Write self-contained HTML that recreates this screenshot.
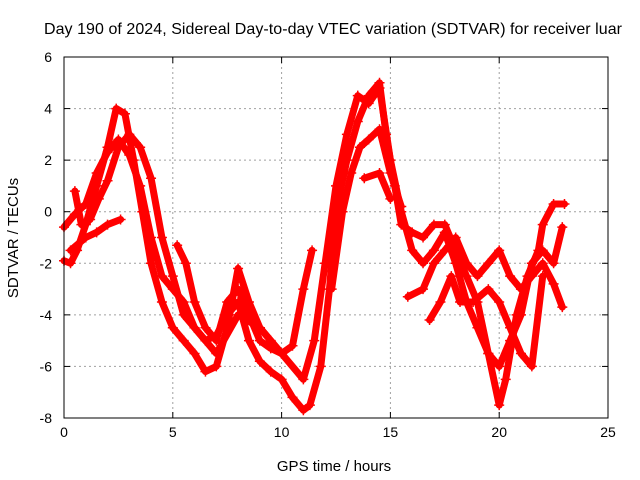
<!DOCTYPE html>
<html><head><meta charset="utf-8"><style>
body{margin:0;background:#fff;}
svg{display:block;font-family:"Liberation Sans",sans-serif;}
</style></head><body>
<svg id="c" width="640" height="480" viewBox="0 0 640 480">
<text x="333" y="34" font-size="16" text-anchor="middle" textLength="578">Day 190 of 2024, Sidereal Day-to-day VTEC variation (SDTVAR) for receiver luar</text>
<g id="grid"></g>
<g id="ticks"></g>
<g id="series"></g>
<rect x="64" y="57" width="544" height="361" fill="none" stroke="#000" stroke-width="1"/>
<text x="334" y="471" font-size="15" text-anchor="middle">GPS time / hours</text>
<text transform="translate(18,238) rotate(-90)" font-size="15" text-anchor="middle">SDTVAR / TECUs</text>
</svg>
<script>
const xTicks=[0,5,10,15,20,25];
const yTicks=[6,4,2,0,-2,-4,-6,-8];
const track1=[[0,-1.9],[0.3,-2],[0.6,-1.5],[1,-0.5],[1.5,1],[2,2.5],[2.4,4],[2.8,3.8],[3.2,2],[3.6,0],[4,-2],[4.5,-3.5],[5,-4.5],[5.5,-5],[6,-5.5],[6.5,-6.2],[7,-6],[7.5,-4.5],[8,-2.2],[8.5,-3.5],[9,-4.5],[9.5,-5],[10,-5.5],[10.5,-5.2],[11,-3],[11.4,-1.5]];
const track2=[[0,-0.6],[0.5,-0.1],[1,0.3],[1.5,1.5],[2,2.3],[2.5,2.8],[3,2.2],[3.5,1],[4,-1],[4.5,-2.5],[5,-3],[5.5,-3.5],[6,-4.5],[6.5,-5],[7,-4.8],[7.5,-4],[8,-3.5],[8.5,-5],[9,-5.8],[9.5,-6.2],[10,-6.5],[10.5,-7.2],[11,-7.7],[11.3,-7.5],[11.8,-6],[12.2,-3],[12.5,0],[13,2],[13.5,3.5],[14,4.5],[14.5,5],[14.8,3],[15.2,1],[15.5,-0.5],[16,-0.8],[16.5,-1],[17,-0.5],[17.5,-0.5],[18,-1.5],[18.5,-2.5],[19,-3.5],[19.5,-5.5],[20,-7.5],[20.3,-6.5],[20.8,-4],[21.3,-2.5],[21.8,-1.5],[22,-0.5],[22.5,0.3],[23,0.3]];
const track3=[[0.5,0.8],[0.8,-0.5],[1.2,-0.3],[1.6,0.5],[2,1.2],[2.5,2.5],[3,3],[3.5,2.5],[4,1.3],[4.5,-1],[5,-2.5],[5.5,-4],[6,-4.5],[7,-5.5],[8,-4],[9,-4.5],[10,-5.5],[11,-6.5],[11.5,-5],[12,-2],[12.5,1],[13,3],[13.5,4.5],[14,4.2],[14.5,4.8],[15,2],[15.5,0],[16,-1.5],[16.5,-2],[17,-1.5],[17.5,-0.8],[18,-2],[18.5,-3.5],[19,-4.5],[19.5,-5.5],[20,-6],[20.5,-5],[21,-4],[21.5,-2],[22,-1.5],[22.5,-2],[22.9,-0.6]];
const track4=[[0.3,-1.5],[1,-1],[1.5,-0.8],[2,-0.5],[2.6,-0.3]];
const track5=[[5.2,-1.3],[5.6,-2],[6,-3.5],[6.5,-4.5],[7,-5],[7.5,-3.5],[8,-3],[8.5,-4],[9,-5],[9.5,-5.3],[10,-5.5]];
const track6=[[12.3,-3],[12.8,0],[13.2,1.5],[13.6,2.5],[14,2.8],[14.5,3.2],[15,1.5],[15.5,0.2]];
const track7=[[13.8,1.3],[14.5,1.5],[15,0.5]];
const track8=[[15.8,-3.3],[16.5,-3],[17,-2],[17.5,-1.5],[18,-1],[18.5,-2],[19,-2.5],[19.5,-2],[20,-1.5],[20.5,-2.5],[21,-3],[21.5,-2.5],[22,-2],[22.5,-2.8],[22.9,-3.7]];
const track9=[[16.8,-4.2],[17.3,-3.5],[17.8,-2.5],[18.2,-3.5],[18.8,-3.5],[19.5,-3],[20,-3.5],[20.5,-4.5],[21,-5.5],[21.5,-6],[22,-2.5]];
const tracks=[track1,track2,track3,track4,track5,track6,track7,track8,track9];

const X0=64,X1=608,Y0=418,Y1=57;
const sx=v=>X0+(v-0)/(25-0)*(X1-X0);
const sy=v=>Y0-(v+8)/(14)*(Y0-Y1);
const NS="http://www.w3.org/2000/svg";
const grid=document.getElementById('grid'),ticks=document.getElementById('ticks'),ser=document.getElementById('series');
function mk(tag,attrs,parent){const e=document.createElementNS(NS,tag);for(const k in attrs)e.setAttribute(k,attrs[k]);parent.appendChild(e);return e;}
xTicks.forEach(t=>{
  const x=sx(t);
  if(t>0&&t<25){const g=mk('line',{x1:x,x2:x,y1:Y1,y2:Y0,stroke:'#a0a0a0','stroke-dasharray':'2,3'},grid);
  
  }
  mk('line',{x1:x,x2:x,y1:Y0,y2:Y0-6,stroke:'#000'},ticks);
  mk('line',{x1:x,x2:x,y1:Y1,y2:Y1+6,stroke:'#000'},ticks);
  const l=mk('text',{x:x,y:Y0+19,'font-size':14,'text-anchor':'middle'},ticks);l.textContent=t;
  
  
});
yTicks.forEach(t=>{
  const y=sy(t);
  if(t>-8&&t<6){const g=mk('line',{x1:X0,x2:X1,y1:y,y2:y,stroke:'#a0a0a0','stroke-dasharray':'2,3'},grid);
  
  }
  mk('line',{x1:X0,x2:X0+6,y1:y,y2:y,stroke:'#000'},ticks);
  mk('line',{x1:X1,x2:X1-6,y1:y,y2:y,stroke:'#000'},ticks);
  const l=mk('text',{x:X0-12,y:y+5,'font-size':14,'text-anchor':'end'},ticks);l.textContent=t;
  
  
});
tracks.forEach((tr,i)=>{
  const p=mk('polyline',{points:tr.map(d=>sx(d[0])+','+sy(d[1])).join(' '),fill:'none',stroke:'#ff0000','stroke-width':7,'stroke-linejoin':'round','stroke-linecap':'round'},ser);
  
  
  tr.forEach(d=>{
    const x=sx(d[0]),y=sy(d[1]);
    const m=mk('path',{d:`M${x-5},${y}H${x+5}M${x},${y-5}V${y+5}`,stroke:'#ff0000','stroke-width':1.5},ser);
    
    
  });
});
</script>
</body></html>
